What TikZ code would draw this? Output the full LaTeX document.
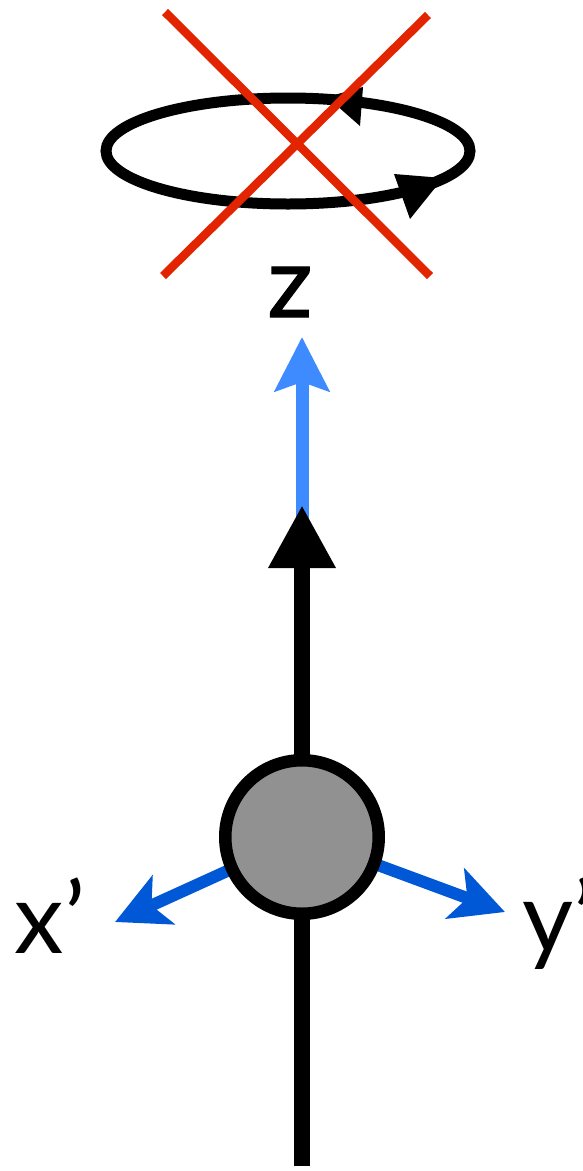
\documentclass[tikz,border=0pt]{standalone}
\usepackage{fontspec}
\setmainfont{Lato}
\usetikzlibrary{arrows.meta,backgrounds}
\definecolor{crossred}{RGB}{226,36,0}
\definecolor{lightblue}{RGB}{62,138,255}
\definecolor{darkblue}{RGB}{0,88,214}
\definecolor{ballgray}{RGB}{145,145,145}
\begin{document}
\begin{tikzpicture}[x=1pt,y=-1pt,
  lbl/.style={font=\fontsize{99}{99}\selectfont, inner sep=0pt, outer sep=0pt},
  axisline/.style={line width=16.5pt, black},
  spinline/.style={line width=11pt, black},
  crossline/.style={line width=8.5pt, crossred},
  frameaxis/.style={line width=12pt, darkblue, -{Stealth[length=53pt,width=53pt,inset=13pt]}},
  spinaxis/.style={line width=13pt, lightblue, -{Stealth[length=54pt,width=54pt,inset=9pt]}},
  ballstyle/.style={circle, draw=black, line width=12.5pt, fill=ballgray, minimum size=153.5pt, inner sep=0pt}]
\useasboundingbox (0,0) rectangle (583,1171);

% rotation ellipse with arrowheads
\draw[spinline] (288,151) ellipse [x radius=182, y radius=53];
\fill[black] (327,97) -- (363,87) -- (360,126) -- cycle;
\fill[black] (443,178) -- (394,174) -- (410,219) -- cycle;

% red cross
\draw[crossline] (165,12) -- (430,276);
\draw[crossline] (428,15) -- (163,276);

% labels
\node[lbl, anchor=base] (zlabel) at (290,317) {\addfontfeature{FakeBold=1.2}z};
\node[lbl, anchor=base west] (xlabel) at (15,953) {x’};
\node[lbl, anchor=base west] (ylabel) at (522,952) {y’};

% particle
\node[ballstyle] (ball) at (302,837) {};
\coordinate (zbase) at (302,525);
\coordinate (zhead) at (302,337);
\coordinate (ktip) at (302,505);
\coordinate (bottomend) at (302,1166);
\coordinate (xtip) at (115,922);
\coordinate (ytip) at (505,912);

\begin{scope}[on background layer]
  \draw[spinaxis] (zbase) -- (zhead);
  \draw[axisline, -{Triangle[length=63pt,width=63pt]}] (ball.center) -- (ktip);
  \draw[axisline] (ball.center) -- (bottomend);
  \draw[frameaxis] (ball.center) -- (xtip);
  \draw[frameaxis] (ball.center) -- (ytip);
\end{scope}
\end{tikzpicture}
\end{document}
